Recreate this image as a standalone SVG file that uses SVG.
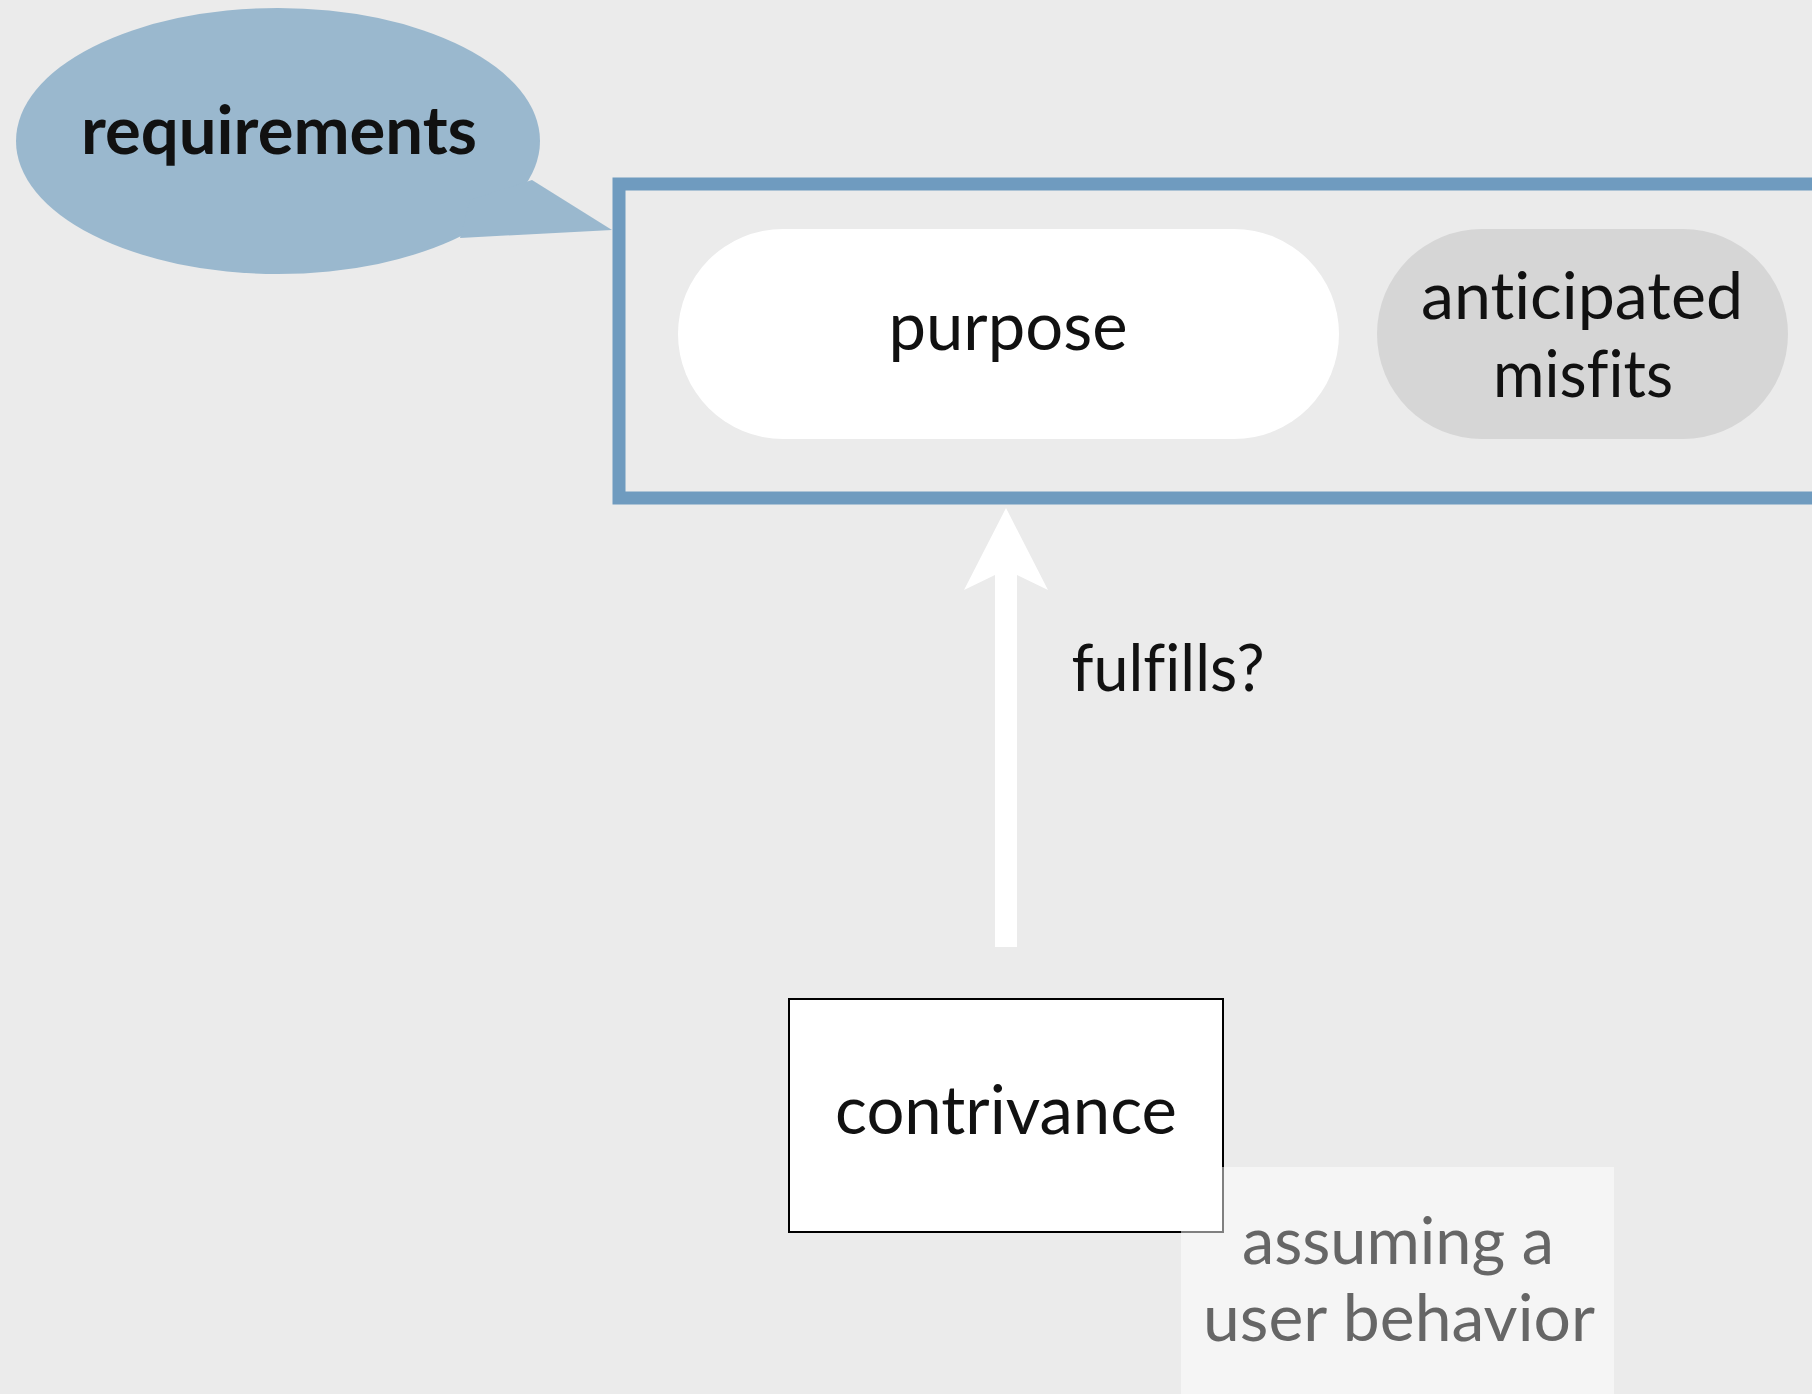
<svg xmlns="http://www.w3.org/2000/svg" width="1812" height="1394" viewBox="0 0 1812 1394">
  <style>
    .t { font-family: Lato, "Open Sans", "Liberation Sans", sans-serif; fill: #111; text-anchor: middle; font-variant-ligatures: none; font-feature-settings: "liga" 0; }
    .b { font-weight: bold; }
    .g { fill: #666; }
  </style>
  <rect x="0" y="0" width="1812" height="1394" fill="#ebebeb"/>

  <g id="requirements">
    <ellipse cx="278" cy="141" rx="262" ry="133" fill="#9ab8ce"/>
    <polygon points="532,180 612,230 460,238 470,200" fill="#9ab8ce"/>
    <text class="t b" x="279" y="154" font-size="66" textLength="396" lengthAdjust="spacingAndGlyphs">requirements</text>
  </g>

  <g id="frame">
    <rect x="619" y="184" width="1300" height="314" fill="none" stroke="#6f9bbf" stroke-width="13"/>
  </g>

  <g id="purpose">
    <rect x="678" y="229" width="661" height="210" rx="105" ry="105" fill="#ffffff"/>
    <text class="t" x="1008" y="350" font-size="68" textLength="239" lengthAdjust="spacingAndGlyphs">purpose</text>
  </g>

  <g id="misfits">
    <rect x="1377" y="229" width="411" height="210" rx="105" ry="105" fill="#d6d6d6"/>
    <text class="t" x="1582" y="319" font-size="66" textLength="322" lengthAdjust="spacingAndGlyphs">anticipated</text>
    <text class="t" x="1583" y="397" font-size="66" textLength="180" lengthAdjust="spacingAndGlyphs">misfits</text>
  </g>

  <g id="connectors">
    <polygon points="1006,508 1048,590 1017,575 1017,947 995,947 995,575 964,590" fill="#ffffff"/>
    <text class="t" x="1168" y="691" font-size="66" textLength="193" lengthAdjust="spacingAndGlyphs">fulfills?</text>
  </g>

  <g id="contrivance">
    <rect x="789" y="999" width="434" height="233" fill="#ffffff" stroke="#000" stroke-width="2"/>
    <text class="t" x="1006" y="1134" font-size="68" textLength="342" lengthAdjust="spacingAndGlyphs">contrivance</text>
  </g>

  <g id="user-behavior">
    <rect x="1181" y="1167" width="433" height="240" fill="#ffffff" fill-opacity="0.5"/>
    <text class="t g" x="1398" y="1264" font-size="66" textLength="312" lengthAdjust="spacingAndGlyphs">assuming a</text>
    <text class="t g" x="1399" y="1341" font-size="66" textLength="392" lengthAdjust="spacingAndGlyphs">user behavior</text>
  </g>
</svg>
